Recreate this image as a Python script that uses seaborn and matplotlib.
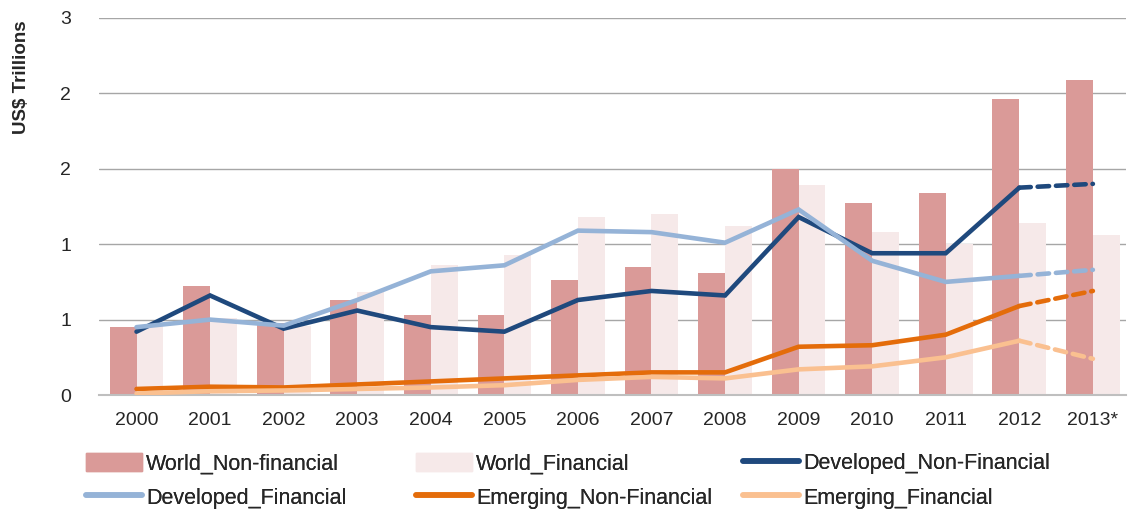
import pandas as pd
import matplotlib
matplotlib.use('Agg')
import matplotlib.pyplot as plt
import seaborn as sns
from matplotlib.patches import Patch
from matplotlib.lines import Line2D

# Data
years = ["2000", "2001", "2002", "2003", "2004", "2005", "2006",
         "2007", "2008", "2009", "2010", "2011", "2012", "2013*"]
world_nonfin = [0.45, 0.72, 0.48, 0.63, 0.53, 0.53, 0.76,
                0.85, 0.81, 1.50, 1.27, 1.34, 1.96, 2.09]
world_fin = [0.46, 0.51, 0.46, 0.68, 0.86, 0.93, 1.18,
             1.20, 1.12, 1.39, 1.08, 1.00, 1.14, 1.06]
dev_nonfin = [0.42, 0.66, 0.44, 0.56, 0.45, 0.42, 0.63,
              0.69, 0.66, 1.18, 0.94, 0.94, 1.375, 1.40]
dev_fin = [0.45, 0.50, 0.46, 0.63, 0.82, 0.86, 1.09,
           1.08, 1.01, 1.23, 0.89, 0.75, 0.79, 0.83]
em_nonfin = [0.04, 0.055, 0.05, 0.07, 0.09, 0.11, 0.13,
             0.15, 0.15, 0.32, 0.33, 0.40, 0.59, 0.69]
em_fin = [0.01, 0.025, 0.03, 0.04, 0.05, 0.065, 0.10,
          0.12, 0.11, 0.17, 0.19, 0.25, 0.36, 0.24]
ytick_vals = [0, 0.5, 1.0, 1.5, 2.0, 2.5]
ytick_labels = ["0", "1", "1", "2", "2", "3"]

bar_names = ["World_Non-financial", "World_Financial"]
bar_colors = ["#DA9A98", "#F6E9E9"]
line_names = ["Developed_Non-Financial", "Developed_Financial",
              "Emerging_Non-Financial", "Emerging_Financial"]
line_colors = ["#1F497D", "#95B3D7", "#E46C0A", "#FAC090"]

bars = pd.DataFrame({
    "year": years * 2,
    "value": world_nonfin + world_fin,
    "series": [bar_names[0]] * len(years) + [bar_names[1]] * len(years),
})

sns.set_style("white")
plt.rcParams['font.family'] = ['Liberation Sans', 'DejaVu Sans']

fig = plt.figure(figsize=(11.29, 5.14), dpi=100)
ax = fig.add_axes([99 / 1129, 1 - 395 / 514, 1027 / 1129, 377 / 514])

sns.barplot(data=bars, x="year", y="value", hue="series", palette=bar_colors,
            width=0.73, saturation=1, linewidth=0, legend=False, ax=ax, zorder=2)

# lines: solid up to 2012, dashed for 2012 -> 2013*
xs = list(range(len(years)))
for vals, col in zip([dev_nonfin, dev_fin, em_nonfin, em_fin], line_colors):
    sns.lineplot(x=xs[:-1], y=vals[:-1], color=col, linewidth=3.3, ax=ax,
                 zorder=3, solid_joinstyle='miter')
    sns.lineplot(x=xs[-2:], y=vals[-2:], color=col, linewidth=3.3, ax=ax,
                 zorder=3, linestyle=(0, (2.5, 1.5)), dash_capstyle='round')

ax.set_xlim(-0.51, 13.45)
ax.set_ylim(0, 2.5)
ax.set_xticks(xs)
ax.set_xticklabels(years, fontsize=14)
ax.set_yticks(ytick_vals)
ax.set_yticklabels(ytick_labels, fontsize=14)
ax.tick_params(axis='x', length=0, pad=12)
ax.tick_params(axis='y', length=0, pad=20)
ax.set_xlabel("")
ax.set_ylabel("")
ax.grid(axis='y', color='#A6A6A6', linewidth=1)
ax.set_axisbelow(True)
sns.despine(ax=ax, left=True, top=True, right=True)
ax.spines['bottom'].set_color('#BFBFBF')
ax.spines['bottom'].set_linewidth(1.5)

fig.text(22 / 1129, 1 - 20 / 514, "US$ Trillions", rotation=90, va='top', ha='center',
         fontsize=13.5, fontweight='bold')

# legend laid out as three columns
handles = [Patch(color=bar_colors[0]), Patch(color=bar_colors[1])] + \
          [Line2D([], [], color=c, linewidth=4, solid_capstyle='round') for c in line_colors]
labels = bar_names + line_names
order = [[0, 3], [1, 4], [2, 5]]
col_x = [86, 416, 743]
for cx, idx in zip(col_x, order):
    leg = fig.legend([handles[i] for i in idx], [labels[i] for i in idx],
                     loc='upper left', bbox_to_anchor=(cx / 1129, 1 - 453 / 514),
                     frameon=False, fontsize=15.5, handlelength=2.6, handleheight=0.9,
                     handletextpad=0.2, labelspacing=0.6, borderaxespad=0, borderpad=0)
    fig.add_artist(leg)

fig.savefig("out.png", dpi=100)
